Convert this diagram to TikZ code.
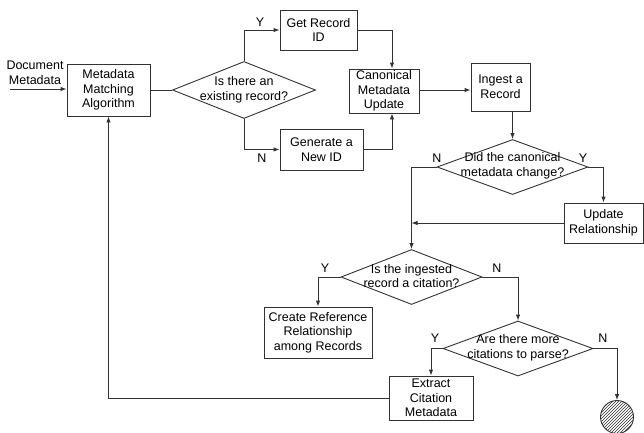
\documentclass[tikz,border=0pt]{standalone}
\usepackage{fontspec}
\setmainfont{Liberation Sans}
\usetikzlibrary{arrows.meta,shapes.geometric,patterns}
\begin{document}
\begin{tikzpicture}[x=1pt,y=-1pt,
  every node/.style={font=\fontsize{12.5}{14.7}\selectfont, text=black},
  ln/.style={draw=black!80, line width=0.9pt},
  arr/.style={ln, -{Latex[length=6pt,width=4.5pt]}},
  box/.style={ln, rectangle, fill=white, align=center, inner sep=0pt},
  dia/.style={ln, diamond, fill=white, inner sep=0pt},
  yn/.style={inner sep=0pt}]
\useasboundingbox[fill=white] (0,0) rectangle (644,432);

% nodes
\node[align=center, inner sep=0pt] (doc) at (35,73) {Document\\Metadata};
\node[box, minimum width=83pt, minimum height=52pt] (mma) at (108.5,90) {Metadata\\Matching\\Algorithm};
\node[dia, minimum width=143pt, minimum height=57pt, label={[align=center]center:Is there an\\existing record?}] (d1) at (244,90) {};
\node[box, minimum width=77pt, minimum height=40pt] (getid) at (318.5,30) {Get Record\\ID};
\node[box, minimum width=83pt, minimum height=41pt] (genid) at (321.5,149.5) {Generate a\\New ID};
\node[box, minimum width=70pt, minimum height=44pt] (canon) at (384,91) {Canonical\\Metadata\\Update};
\node[box, minimum width=59pt, minimum height=48pt] (ingest) at (500.5,87) {Ingest a\\Record};
\node[dia, minimum width=151pt, minimum height=55pt, label={[align=center,yshift=1pt]center:Did the canonical\\metadata change?}] (d2) at (512.5,167) {};
\node[box, minimum width=79pt, minimum height=40pt] (update) at (603.5,223) {Update\\Relationship};
\node[dia, minimum width=141pt, minimum height=55pt, label={[align=center,yshift=1pt]center:Is the ingested\\record a citation?}] (d3) at (411.5,277) {};
\node[box, minimum width=108pt, minimum height=51pt] (create) at (318,332.5) {Create Reference\\Relationship\\among Records};
\node[dia, minimum width=150pt, minimum height=55pt, label={[align=center,yshift=1pt]center:Are there more\\citations to parse?}] (d4) at (518,348.5) {};
\node[box, minimum width=84pt, minimum height=44pt] (extract) at (431,398) {Extract\\Citation\\Metadata};
\node[ln, circle, minimum size=33pt, inner sep=0pt, pattern=north east lines, pattern color=black!80] (end) at (617,417) {};

\coordinate (in) at (10,89);

% connectors
\draw[arr] (in) -- (in -| mma.west);
\draw[ln] (mma.east |- d1.west) -- (d1.west);
\draw[arr] (d1.north) |- (getid.west);
\draw[arr] (d1.south) |- (genid.west);
\draw[arr] (getid.east) -| ([xshift=8pt]canon.north);
\draw[arr] (genid.east) -| ([xshift=8pt]canon.south);
\draw[arr] (canon.east |- 0,90) -- (ingest.west |- 0,90);
\draw[arr] (ingest.south -| d2.north) -- (d2.north);
\draw[arr] (d2.east) -| (update.north);
\draw[arr] (d2.west) -| (d3.north);
\draw[arr] (update.west) -- (update.west -| d3.north);
\draw[arr] (d3.west) -| (create.north);
\draw[arr] (d3.east) -| (d4.north);
\draw[arr] (d4.west) -| (extract.north);
\draw[arr] (d4.east) -| (end.north);
\draw[arr] (extract.west) -| (mma.south);

% Y/N labels
\node[yn] (y1) at (260,22) {Y};
\node[yn] (n1) at (262,158) {N};
\node[yn] (n2) at (437,158) {N};
\node[yn] (y2) at (583,158) {Y};
\node[yn] (y3) at (325,268) {Y};
\node[yn] (n3) at (497,268) {N};
\node[yn] (y4) at (435,338) {Y};
\node[yn] (n4) at (603,338) {N};
\end{tikzpicture}
\end{document}
